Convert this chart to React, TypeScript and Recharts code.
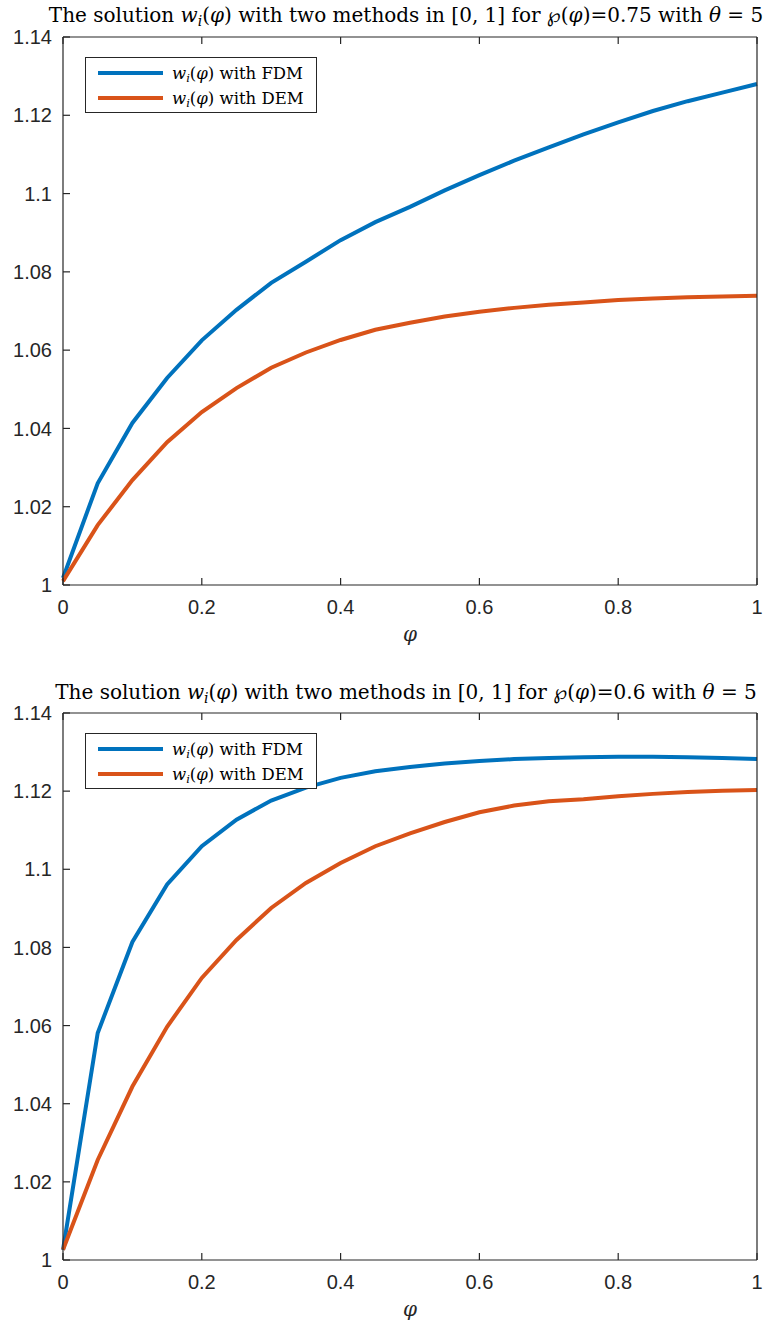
import React from 'react';
import { LineChart, Line, XAxis, YAxis } from 'recharts';

// grid of phi values (step 0.05)
const phi = [0, 0.05, 0.1, 0.15, 0.2, 0.25, 0.3, 0.35, 0.4, 0.45, 0.5, 0.55, 0.6, 0.65, 0.7, 0.75, 0.8, 0.85, 0.9, 0.95, 1];

// top panel, p(phi)=0.75
const fdmTop = [1.0018, 1.026, 1.0414, 1.0529, 1.0625, 1.0703, 1.0772, 1.0826, 1.0881, 1.0927, 1.0966, 1.1008, 1.1047, 1.1084, 1.1118, 1.1151, 1.1182, 1.1211, 1.1236, 1.1258, 1.128];
const demTop = [1.001, 1.0153, 1.0268, 1.0365, 1.0442, 1.0503, 1.0555, 1.0594, 1.0626, 1.0652, 1.067, 1.0686, 1.0698, 1.0708, 1.0716, 1.0722, 1.0728, 1.0732, 1.0735, 1.0737, 1.0739];

// bottom panel, p(phi)=0.6
const fdmBottom = [1.0026, 1.0581, 1.0814, 1.0961, 1.1059, 1.1127, 1.1176, 1.1209, 1.1234, 1.1251, 1.1262, 1.1271, 1.1277, 1.1282, 1.1285, 1.1287, 1.1288, 1.1288, 1.1287, 1.1285, 1.1282];
const demBottom = [1.0026, 1.0256, 1.0444, 1.0597, 1.0722, 1.0819, 1.0901, 1.0965, 1.1016, 1.1059, 1.1092, 1.1121, 1.1146, 1.1163, 1.1174, 1.1179, 1.1187, 1.1193, 1.1198, 1.1201, 1.1203];

const xTicks = [0, 0.2, 0.4, 0.6, 0.8, 1];
const yTicks = [1, 1.02, 1.04, 1.06, 1.08, 1.1, 1.12, 1.14];

const BLUE = '#0072BD';
const ORANGE = '#D95319';
const AX = '#262626';
const SERIF = '"DejaVu Serif", serif';
const SANS = '"Liberation Sans", Arial, sans-serif';

const fmt = (v: number) => String(Math.round(v * 100) / 100);

const Wi = () => (
  <>
    <i>w</i>
    <sub style={{ fontSize: '0.7em', verticalAlign: '-0.25em', lineHeight: 0 }}><i>i</i></sub>(<i>φ</i>)
  </>
);

const Title = ({ value, top }: { value: string; top: number }) => (
  <div style={{ position: 'absolute', left: 406, top, transform: 'translateX(-50%)', whiteSpace: 'nowrap', fontFamily: SERIF, fontSize: 20, color: '#000', lineHeight: '24px' }}>
    The solution <Wi /> with two methods in [0, 1] for <span style={{ fontFamily: '"DejaVu Sans", sans-serif', fontStyle: 'italic' }}>℘</span>(<i>φ</i>)={value} with <i>θ</i> = 5
  </div>
);

const LegendBox = ({ top }: { top: number }) => (
  <div style={{ position: 'absolute', left: 85, top, width: 230, height: 54, border: `1px solid ${AX}`, background: '#fff', fontFamily: SERIF, fontSize: 16.5, color: '#000' }}>
    {[{ c: BLUE, t: 'FDM' }, { c: ORANGE, t: 'DEM' }].map((r, i) => (
      <div key={r.t} style={{ position: 'absolute', left: 12, top: 3 + i * 25, height: 24, display: 'flex', alignItems: 'center', whiteSpace: 'nowrap' }}>
        <span style={{ display: 'inline-block', width: 65, height: 4, background: r.c, marginRight: 9 }} />
        <span><Wi /> with {r.t}</span>
      </div>
    ))}
  </div>
);

interface PanelProps { top: number; marginTop: number; marginBottom: number; fdm: number[]; dem: number[]; value: string; titleTop: number; legendTop: number; }

const Panel = ({ top, marginTop, marginBottom, fdm, dem, value, titleTop, legendTop }: PanelProps) => {
  const rows = phi.map((p, i) => ({ phi: p, fdm: fdm[i], dem: dem[i] }));
  return (
    <div style={{ position: 'absolute', left: 0, top, width: 782, height: 663 }}>
      <LineChart width={782} height={663} data={rows} margin={{ top: marginTop - 1, right: 24, bottom: marginBottom, left: 0 }}>
        <XAxis xAxisId="b" dataKey="phi" type="number" domain={[0, 1]} ticks={xTicks} tickFormatter={fmt}
          height={50} stroke={AX} strokeWidth={1.2} tickSize={-7} tickMargin={22}
          tick={{ fill: AX, fontSize: 20, fontFamily: SANS }}
          label={{ value: 'φ', position: 'bottom', offset: -8, style: { fontFamily: SERIF, fontStyle: 'italic', fontSize: 20, fill: AX } }} />
        <XAxis xAxisId="t" orientation="top" dataKey="phi" type="number" domain={[0, 1]} ticks={xTicks}
          height={1} stroke={AX} strokeWidth={1.2} tickSize={-7} tick={() => <g />} />
        <YAxis yAxisId="l" type="number" domain={[1, 1.14]} ticks={yTicks} tickFormatter={fmt}
          width={63} stroke={AX} strokeWidth={1.2} tickSize={-7} tickMargin={18}
          tick={{ fill: AX, fontSize: 20, fontFamily: SANS }} />
        <YAxis yAxisId="r" orientation="right" type="number" domain={[1, 1.14]} ticks={yTicks}
          width={1} stroke={AX} strokeWidth={1.2} tickSize={-7} tick={() => <g />} />
        <Line xAxisId="b" yAxisId="l" type="linear" dataKey="fdm" stroke={BLUE} strokeWidth={4} dot={false} isAnimationActive={false} />
        <Line xAxisId="b" yAxisId="l" type="linear" dataKey="dem" stroke={ORANGE} strokeWidth={4} dot={false} isAnimationActive={false} />
      </LineChart>
      <Title value={value} top={titleTop} />
      <LegendBox top={legendTop} />
    </div>
  );
};

export default function App() {
  return (
    <div style={{ position: 'absolute', left: 0, top: 0, width: 782, height: 1326, overflow: 'hidden', background: '#fff' }}>
      <Panel top={0} marginTop={37} marginBottom={28} fdm={fdmTop} dem={demTop} value="0.75" titleTop={3} legendTop={57} />
      <Panel top={663} marginTop={50} marginBottom={16} fdm={fdmBottom} dem={demBottom} value="0.6" titleTop={17} legendTop={70} />
    </div>
  );
}
